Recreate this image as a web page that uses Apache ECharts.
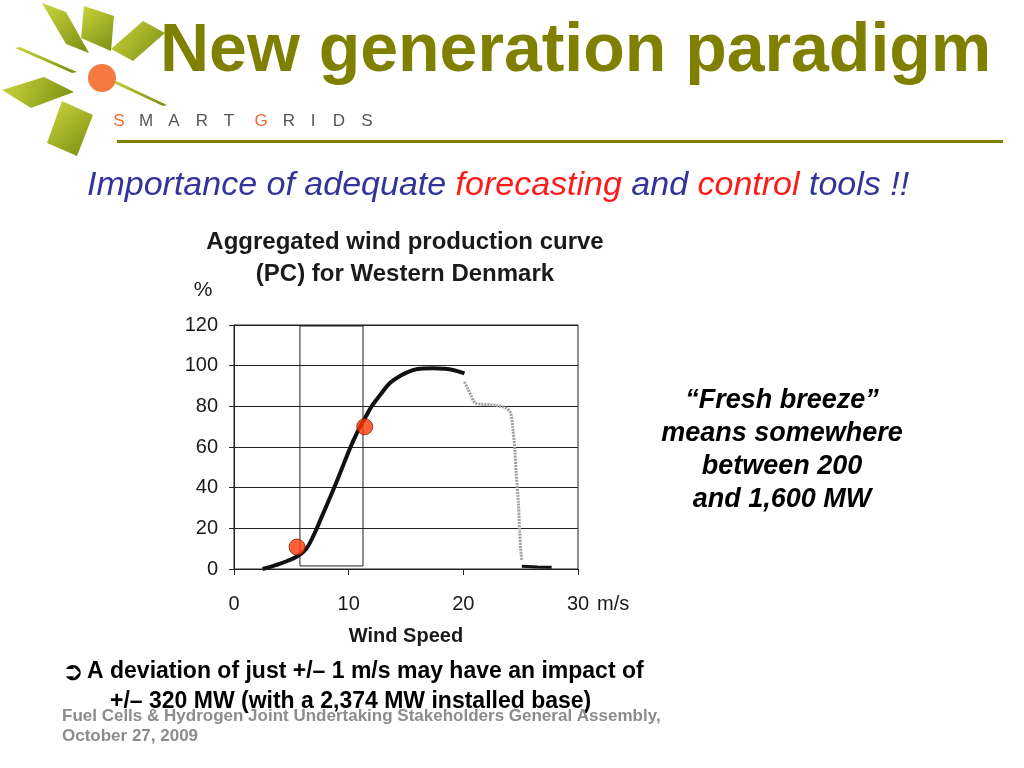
<!DOCTYPE html>
<html>
<head>
<meta charset="utf-8">
<script src="https://cdn.jsdelivr.net/npm/echarts@6/dist/echarts.min.js"></script>
<style>
html,body{margin:0;padding:0;background:#fff;}
#c{width:1024px;height:768px;}
</style>
</head>
<body>
<div id="c"></div>
<script>
// ---- data ----
const xTicks = [0, 10, 20, 30];
const yTicks = [0, 20, 40, 60, 80, 100, 120];
const windMain = [[2.5,0],[3.7,2],[4.6,3.8],[5.6,6.5],[6.3,10],[6.9,16],[7.6,25],[8.4,35.5],[9.1,45],[9.8,55],[10.4,63],[11,70],[11.5,75],[12,80],[12.8,86],[13.6,91.5],[14.5,95],[15.6,97.8],[16.5,98.6],[17.4,98.7],[18.3,98.5],[19.1,97.9],[20.1,96.2]];
const windCutout = [[20.1,92],[20.4,88.5],[20.7,85],[21.0,81.8],[21.6,81],[22.3,80.8],[23,80.3],[23.6,79.5],[24.1,77],[24.3,70],[24.5,58],[24.6,48],[24.8,33],[24.9,20],[25.0,10],[25.1,4]];
const windTail = [[25.1,1.3],[26.5,1],[27.7,0.8]];
const markPoints = [[5.5,10.8],[11.4,70]];
const boxX = [5.75, 11.25];
const boxY = [1.5, 119.5];

const olive = '#808000';
const chart = echarts.init(document.getElementById('c'));

const leafFill = {type:'linear', x:0, y:0, x2:1, y2:1, colorStops:[{offset:0,color:'#cbd63c'},{offset:1,color:'#7b8c12'}]};
const leaves = [
  [[42,3],[66,12],[89,53],[66,44]],
  [[84,6],[114,16],[111,51],[81,38]],
  [[111,49],[143,21],[165,33],[133,61]],
  [[15,48],[20,47],[77,72],[72,73]],
  [[107,80],[110,78],[167,105],[163,106]],
  [[2,90],[44,77],[74,92],[31,108]],
  [[62,101],[93,115],[77,156],[47,143]]
];
const logoLetters = ['S','M','A','R','T','G','R','I','D','S'];
const letterX = [119,146,174,202,229,261,289,313,339,367];

const graphics = [];
leaves.forEach(p => graphics.push({type:'polygon', shape:{points:p}, style:{fill:leafFill}}));
graphics.push({type:'circle', shape:{cx:102, cy:78, r:14}, style:{fill:'#f47a42'}});
logoLetters.forEach((ch,i) => graphics.push({type:'text', x:letterX[i], y:121, style:{text:ch, fill:(i===0||ch==='G')?'#f06a36':'#555', font:'normal 17px "Liberation Sans"', textAlign:'center', textVerticalAlign:'middle'}}));
graphics.push({type:'text', x:160, y:52, style:{text:'New generation paradigm', fill:olive, font:'bold 68px "Liberation Sans"', textVerticalAlign:'middle'}});
graphics.push({type:'rect', shape:{x:117, y:140, width:886, height:3}, style:{fill:olive}});
graphics.push({type:'text', x:87, y:186, style:{
  text:'{b|Importance of adequate }{r|forecasting}{b| and }{r|control}{b| tools !!}',
  textVerticalAlign:'middle',
  rich:{b:{fill:'#33339c', font:'italic 34px "Liberation Sans"'}, r:{fill:'#ff1a1a', font:'italic 34px "Liberation Sans"'}}
}});
graphics.push({type:'text', x:405, y:258, style:{text:'Aggregated wind production curve\n(PC) for Western Denmark', fill:'#1a1a1a', font:'bold 24px "Liberation Sans"', lineHeight:32, textAlign:'center', textVerticalAlign:'middle'}});
graphics.push({type:'text', x:203, y:290, style:{text:'%', fill:'#1a1a1a', font:'normal 21px "Liberation Sans"', textAlign:'center', textVerticalAlign:'middle'}});
graphics.push({type:'text', x:597, y:604, style:{text:'m/s', fill:'#1a1a1a', font:'normal 20px "Liberation Sans"', textVerticalAlign:'middle'}});
graphics.push({type:'text', x:782, y:450, style:{text:'\u201cFresh breeze\u201d\nmeans somewhere\nbetween 200\nand 1,600 MW', fill:'#000', font:'italic bold 27px "Liberation Sans"', lineHeight:33, textAlign:'center', textVerticalAlign:'middle'}});
graphics.push({type:'text', x:62, y:673, style:{text:'\u27b2', fill:'#000', font:'bold 26px "DejaVu Sans"', textVerticalAlign:'middle'}});
graphics.push({type:'text', x:87, y:672, style:{text:'A deviation of just +/\u2013 1 m/s may have an impact of', fill:'#000', font:'bold 23px "Liberation Sans"', textVerticalAlign:'middle'}});
graphics.push({type:'text', x:110, y:702, style:{text:'+/\u2013 320 MW (with a 2,374 MW installed base)', fill:'#000', font:'bold 23px "Liberation Sans"', textVerticalAlign:'middle'}});
graphics.push({type:'text', x:62, y:726, style:{text:'Fuel Cells & Hydrogen Joint Undertaking Stakeholders General Assembly,\nOctober 27, 2009', fill:'#8c8c8c', font:'bold 17px "Liberation Sans"', lineHeight:20, textVerticalAlign:'middle'}});
graphics.forEach(g => { g.z = 100; });

chart.setOption({
  animation:false,
  backgroundColor:'#fff',
  grid:{left:234, top:325, width:344, height:244, show:true, borderColor:'#222', borderWidth:1, backgroundColor:'transparent'},
  xAxis:{type:'value', min:xTicks[0], max:xTicks[xTicks.length-1], interval:10,
    axisLine:{show:true, onZero:false, lineStyle:{color:'#222', width:1}},
    axisTick:{show:true, inside:false, length:6, lineStyle:{color:'#222'}},
    splitLine:{show:false},
    axisLabel:{margin:25, color:'#1a1a1a', fontSize:20, fontFamily:'Liberation Sans'},
    name:'Wind Speed', nameLocation:'middle', nameGap:57,
    nameTextStyle:{color:'#1a1a1a', fontSize:20, fontWeight:'bold', fontFamily:'Liberation Sans'}
  },
  yAxis:{type:'value', min:yTicks[0], max:yTicks[yTicks.length-1], interval:20,
    axisLine:{show:true, lineStyle:{color:'#222', width:1}},
    axisTick:{show:true, inside:false, length:5, lineStyle:{color:'#222'}},
    splitLine:{show:true, lineStyle:{color:'#222', width:1}},
    axisLabel:{margin:16, color:'#1a1a1a', fontSize:20, fontFamily:'Liberation Sans'}
  },
  graphic:graphics,
  series:[
    {type:'line', data:windMain, smooth:0.4, showSymbol:false, lineStyle:{color:'#111', width:4}, z:5,
      markArea:{silent:true, itemStyle:{color:'rgba(0,0,0,0)', borderColor:'#222', borderWidth:1},
        data:[[{xAxis:boxX[0], yAxis:boxY[0]},{xAxis:boxX[1], yAxis:boxY[1]}]]}},
    {type:'line', data:windCutout, smooth:0.3, showSymbol:false, lineStyle:{color:'#a0a0a0', width:3, type:[2,1]}, z:4},
    {type:'line', data:windTail, showSymbol:false, lineStyle:{color:'#111', width:3}, z:4},
    {type:'scatter', data:markPoints, symbolSize:16, itemStyle:{color:'#ff3a0a', borderColor:'#8a1a00', borderWidth:1}, z:10}
  ]
});
</script>
</body>
</html>
